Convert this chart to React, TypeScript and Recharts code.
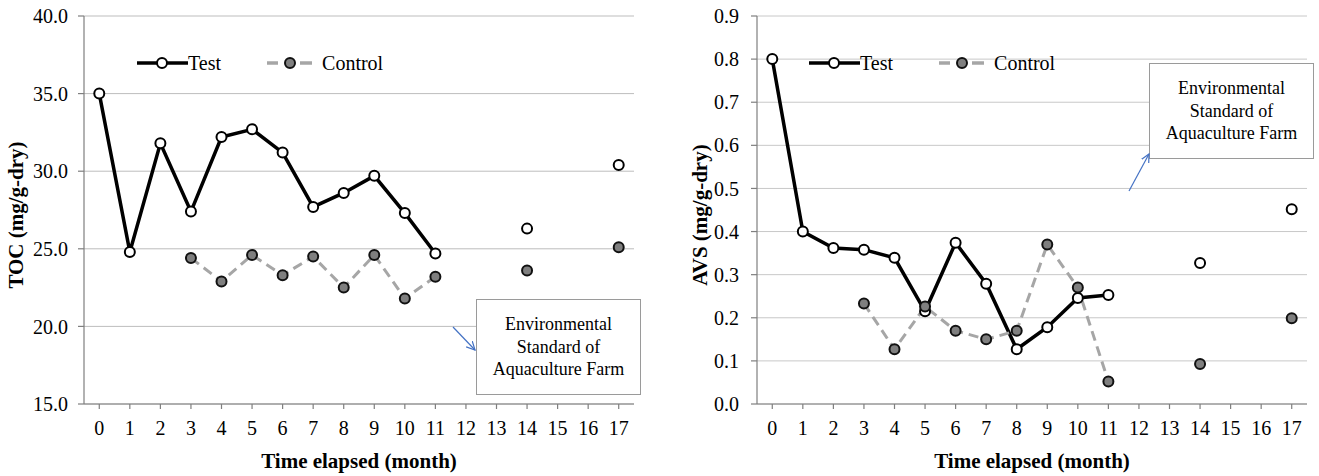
import React from 'react';
import { LineChart, Line, XAxis, YAxis, CartesianGrid, Legend, Label } from 'recharts';

const months = ['0', '1', '2', '3', '4', '5', '6', '7', '8', '9', '10', '11', '12', '13', '14', '15', '16', '17'];

const tocTest = [35.0, 24.8, 31.8, 27.4, 32.2, 32.7, 31.2, 27.7, 28.6, 29.7, 27.3, 24.7, null, null, 26.3, null, null, 30.4];
const tocControl = [null, null, null, 24.4, 22.9, 24.6, 23.3, 24.5, 22.5, 24.6, 21.8, 23.2, null, null, 23.6, null, null, 25.1];

const avsTest = [0.80, 0.40, 0.362, 0.358, 0.339, 0.215, 0.374, 0.279, 0.127, 0.178, 0.246, 0.253, null, null, 0.327, null, null, 0.452];
const avsControl = [null, null, null, 0.233, 0.127, 0.226, 0.17, 0.15, 0.17, 0.37, 0.27, 0.052, null, null, 0.093, null, null, 0.199];

const tocTicks = [15, 20, 25, 30, 35, 40];
const avsTicks = [0, 0.1, 0.2, 0.3, 0.4, 0.5, 0.6, 0.7, 0.8, 0.9];

const seriesNames = ['Test', 'Control'];
const xTitle = 'Time elapsed (month)';
const annotationLines = ['Environmental', 'Standard of', 'Aquaculture Farm'];

const FONT = "'Liberation Serif', 'Times New Roman', Times, serif";

type Row = { month: string; test: number | null; control: number | null };

function buildData(test: (number | null)[], control: (number | null)[]): Row[] {
  return months.map((m, i) => ({ month: m, test: test[i], control: control[i] }));
}

const LegendContent = () => (
  <div
    style={{
      display: 'flex',
      alignItems: 'center',
      fontFamily: FONT,
      fontSize: 20,
      lineHeight: '20px',
      color: '#000',
      whiteSpace: 'nowrap',
    }}
  >
    <svg width={51} height={14} style={{ display: 'block' }}>
      <line x1={0} y1={7} x2={51} y2={7} stroke="#000" strokeWidth={3.5} />
      <circle cx={25} cy={7} r={5} fill="#fff" stroke="#000" strokeWidth={2} />
    </svg>
    <span>{seriesNames[0]}</span>
    <svg width={45} height={14} style={{ display: 'block', marginLeft: 46 }}>
      <line x1={0} y1={7} x2={11} y2={7} stroke="#a6a6a6" strokeWidth={3.5} />
      <line x1={33} y1={7} x2={45} y2={7} stroke="#a6a6a6" strokeWidth={3.5} />
      <circle cx={23} cy={7} r={5} fill="#7f7f7f" stroke="#111" strokeWidth={2} />
    </svg>
    <span style={{ marginLeft: 10 }}>{seriesNames[1]}</span>
  </div>
);

type PanelProps = {
  data: Row[];
  width: number;
  domain: [number, number];
  ticks: number[];
  yLabel: string;
  yAxisWidth: number;
  marginRight: number;
  yTickMargin: number;
  yLabelOffset: number;
  legendLeft: number;
  gridStroke: string;
};

const PLOT_WIDTH = 550;
const HALF_BAND = PLOT_WIDTH / 36;

function Panel(p: PanelProps) {
  return (
    <LineChart
      width={p.width}
      height={476}
      data={p.data}
      margin={{ top: 16, right: p.marginRight, bottom: 4, left: 0 }}
    >
      <CartesianGrid vertical={false} stroke={p.gridStroke} strokeWidth={1} />
      <XAxis
        dataKey="month"
        interval={0}
        height={68}
        padding={{ left: HALF_BAND, right: HALF_BAND }}
        tickSize={5}
        tickMargin={12}
        axisLine={{ stroke: '#7f7f7f', strokeWidth: 1.2 }}
        tickLine={{ stroke: '#7f7f7f', strokeWidth: 1.2 }}
        tick={{ fill: '#000', fontSize: 20, fontFamily: FONT }}
      >
        <Label
          content={(props: any) => {
            const vb = props.viewBox || {};
            const cx = vb.x + vb.width / 2;
            const cy = vb.y + 57;
            return (
              <text
                x={cx}
                y={cy}
                textAnchor="middle"
                dominantBaseline="central"
                fontFamily={FONT}
                fontWeight="bold"
                fontSize={21}
                fill="#000"
              >
                {xTitle}
              </text>
            );
          }}
        />
      </XAxis>
      <YAxis
        width={p.yAxisWidth}
        type="number"
        domain={p.domain}
        ticks={p.ticks}
        interval={0}
        allowDataOverflow
        tickSize={6}
        tickMargin={p.yTickMargin}
        tickFormatter={(v: number) => v.toFixed(1)}
        axisLine={{ stroke: '#7f7f7f', strokeWidth: 1.2 }}
        tickLine={{ stroke: '#7f7f7f', strokeWidth: 1.2 }}
        tick={{ fill: '#000', fontSize: 20, fontFamily: FONT }}
      >
        <Label
          content={(props: any) => {
            const vb = props.viewBox || {};
            const cx = vb.x + p.yLabelOffset;
            const cy = vb.y + vb.height / 2 + 5;
            return (
              <text
                x={cx}
                y={cy}
                transform={`rotate(-90 ${cx} ${cy})`}
                textAnchor="middle"
                dominantBaseline="central"
                fontFamily={FONT}
                fontWeight="bold"
                fontSize={21}
                fill="#000"
              >
                {p.yLabel}
              </text>
            );
          }}
        />
      </YAxis>
      <Legend
        layout="vertical"
        align="center"
        verticalAlign="middle"
        content={() => <LegendContent />}
        wrapperStyle={{ left: p.legendLeft, top: 53, width: 'auto', height: 'auto' }}
      />
      <Line
        dataKey="test"
        name={seriesNames[0]}
        stroke="#000"
        strokeWidth={3.5}
        dot={{ r: 5, fill: '#fff', stroke: '#000', strokeWidth: 2 }}
        activeDot={false}
        isAnimationActive={false}
      />
      <Line
        dataKey="control"
        name={seriesNames[1]}
        stroke="#a6a6a6"
        strokeWidth={3}
        strokeDasharray="10 6"
        dot={{ r: 5, fill: '#7f7f7f', stroke: '#111', strokeWidth: 2, strokeDasharray: '' }}
        activeDot={false}
        isAnimationActive={false}
      />
    </LineChart>
  );
}

const boxStyle: React.CSSProperties = {
  position: 'absolute',
  width: 163,
  height: 94,
  background: '#fff',
  border: '1px solid #9a9a9a',
  display: 'flex',
  flexDirection: 'column',
  alignItems: 'center',
  justifyContent: 'center',
  fontFamily: FONT,
  fontSize: 18,
  lineHeight: '22.5px',
  color: '#000',
  textAlign: 'center',
};

function Annotation({ left, top }: { left: number; top: number }) {
  return (
    <div style={{ ...boxStyle, left, top }}>
      {annotationLines.map((t) => (
        <div key={t}>{t}</div>
      ))}
    </div>
  );
}

export default function App() {
  const tocData = buildData(tocTest, tocControl);
  const avsData = buildData(avsTest, avsControl);
  return (
    <div style={{ position: 'absolute', left: 0, top: 0, width: 1319, height: 476, background: '#fff', overflow: 'hidden' }}>
      <div style={{ position: 'absolute', left: 0, top: 0 }}>
        <Panel
          data={tocData}
          width={660}
          domain={[15, 40]}
          ticks={tocTicks}
          yLabel="TOC (mg/g-dry)"
          yAxisWidth={84}
          marginRight={26}
          yTickMargin={10}
          yLabelOffset={16}
          legendLeft={137}
          gridStroke="#bdbdbd"
        />
      </div>
      <div style={{ position: 'absolute', left: 660, top: 0 }}>
        <Panel
          data={avsData}
          width={659}
          domain={[0, 0.9]}
          ticks={avsTicks}
          yLabel="AVS (mg/g-dry)"
          yAxisWidth={97}
          marginRight={12}
          yTickMargin={12}
          yLabelOffset={40}
          legendLeft={149}
          gridStroke="#c8c8c8"
        />
      </div>
      <Annotation left={476} top={299} />
      <Annotation left={1149} top={63} />
      <svg
        width={1319}
        height={476}
        style={{ position: 'absolute', left: 0, top: 0, pointerEvents: 'none' }}
      >
        <defs>
          <marker id="arrowHead" viewBox="0 0 8 8" refX="7" refY="4" markerWidth="8" markerHeight="8" orient="auto">
            <path d="M0,0.5 L7,4 L0,7.5" fill="none" stroke="#4472c4" strokeWidth={1} />
          </marker>
        </defs>
        <line x1={453} y1={327} x2={475} y2={350} stroke="#4472c4" strokeWidth={1.2} markerEnd="url(#arrowHead)" />
        <line x1={1129} y1={191} x2={1149} y2={154} stroke="#4472c4" strokeWidth={1.2} markerEnd="url(#arrowHead)" />
      </svg>
    </div>
  );
}
